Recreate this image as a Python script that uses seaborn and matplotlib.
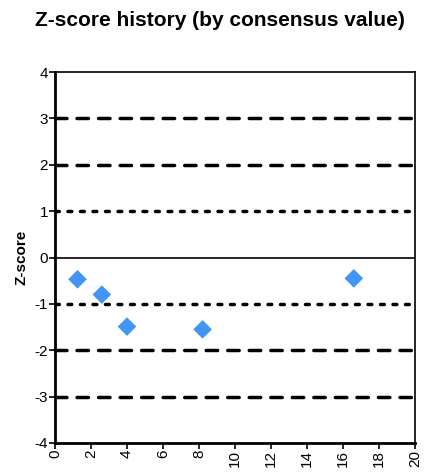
import matplotlib
matplotlib.use("Agg")
import matplotlib.pyplot as plt
import seaborn as sns
import pandas as pd

# Z-score results per round
rounds = [1.25, 2.6, 4.0, 8.2, 16.6]
zscores = [-0.47, -0.8, -1.49, -1.55, -0.45]

x_ticks = [0, 2, 4, 6, 8, 10, 12, 14, 16, 18, 20]
y_ticks = [-4, -3, -2, -1, 0, 1, 2, 3, 4]

sns.set_theme(style="white")
plt.rcParams["font.family"] = ["Liberation Sans", "DejaVu Sans"]
plt.rcParams["text.color"] = "black"
plt.rcParams["axes.labelcolor"] = "black"
plt.rcParams["xtick.color"] = "black"
plt.rcParams["ytick.color"] = "black"

df = pd.DataFrame({"round": rounds, "z": zscores})

fig = plt.figure(figsize=(4.39, 4.72), dpi=100)
ax = fig.add_axes([55 / 439, 1 - 443 / 472, 360 / 439, 371 / 472])

# reference lines
ax.axhline(0, color="black", lw=1.2, zorder=1)
for v in (1, -1):
    ax.axhline(v, color="black", lw=2.5, ls=(0, (1.1, 2.5)),
               dash_capstyle="round", zorder=1)
for v in (2, -2, 3, -3):
    ax.axhline(v, color="black", lw=2.5, ls=(0, (3.3, 2.9)),
               dash_capstyle="round", zorder=1)

sns.scatterplot(data=df, x="round", y="z", marker="D", s=90, color="#4394f7",
                edgecolor="none", ax=ax, zorder=3)

ax.set_xlim(0, 20)
ax.set_ylim(-4, 4)
ax.set_xticks(x_ticks)
ax.set_yticks(y_ticks)
ax.set_xticklabels([str(t) for t in x_ticks], rotation=90, fontsize=11)
ax.set_yticklabels([str(t) for t in y_ticks], fontsize=11)
ax.tick_params(axis="both", which="both", direction="out", length=4, width=1.2,
               color="black", labelcolor="black", pad=1, left=True, bottom=True)

for side in ("left", "bottom"):
    ax.spines[side].set_linewidth(2)
    ax.spines[side].set_color("black")
for side in ("top", "right"):
    ax.spines[side].set_linewidth(1.2)
    ax.spines[side].set_color("black")

ax.set_xlabel("")
ax.set_ylabel("Z-score", fontsize=11, fontweight="bold", labelpad=4)
fig.suptitle("Z-score history (by consensus value)", fontsize=15,
             fontweight="bold", x=0.5, y=0.977, va="top")

fig.savefig("out.png", dpi=100, facecolor="white")
